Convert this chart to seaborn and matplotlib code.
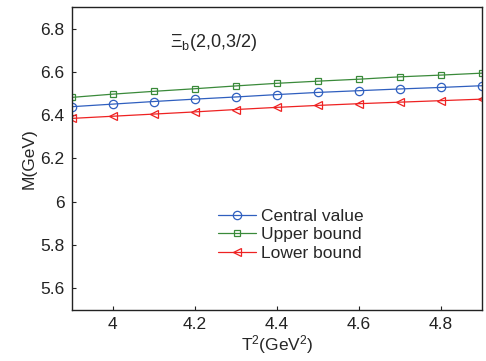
import matplotlib
matplotlib.use("Agg")
import matplotlib.pyplot as plt
import seaborn as sns
import pandas as pd

T2 = [3.9, 4.0, 4.1, 4.2, 4.3, 4.4, 4.5, 4.6, 4.7, 4.8, 4.9]
central = [6.439, 6.451, 6.463, 6.474, 6.484, 6.495, 6.505, 6.513, 6.521, 6.528, 6.536]
upper = [6.482, 6.497, 6.510, 6.522, 6.535, 6.547, 6.557, 6.566, 6.577, 6.585, 6.594]
lower = [6.385, 6.395, 6.405, 6.415, 6.426, 6.436, 6.445, 6.453, 6.460, 6.467, 6.474]
labels = ["Central value", "Upper bound", "Lower bound"]
xticks = [4.0, 4.2, 4.4, 4.6, 4.8]
yticks = [5.6, 5.8, 6.0, 6.2, 6.4, 6.6, 6.8]
ytick_labels = ["5.6", "5.8", "6", "6.2", "6.4", "6.6", "6.8"]

sns.set_style("ticks")
plt.rcParams['font.family'] = ['Liberation Sans', 'DejaVu Sans']
plt.rcParams['mathtext.fontset'] = 'custom'
plt.rcParams['mathtext.rm'] = 'Liberation Sans'
plt.rcParams['mathtext.it'] = 'Liberation Sans'

df = pd.DataFrame({
    "T2": T2 * 3,
    "M": central + upper + lower,
    "series": [labels[0]] * len(T2) + [labels[1]] * len(T2) + [labels[2]] * len(T2),
})

fig = plt.figure(figsize=(4.86, 3.61), dpi=100)
ax = fig.add_axes([0.1475, 0.141, 0.8445, 0.840])
palette = {labels[0]: "#2f5fbf", labels[1]: "#3a8a3a", labels[2]: "#ee2222"}
markers = {labels[0]: "o", labels[1]: "s", labels[2]: "<"}
msizes = {labels[0]: 6, labels[1]: 5, labels[2]: 6}
for lab in labels:
    sub = df[df.series == lab]
    sns.lineplot(data=sub, x="T2", y="M", ax=ax, color=palette[lab], marker=markers[lab],
                 markersize=msizes[lab], markerfacecolor="none",
                 markeredgecolor=palette[lab], markeredgewidth=0.9, linewidth=0.9, label=lab)

fs = 12.5
ax.set_xlim(3.9, 4.9)
ax.set_ylim(5.5, 6.9)
ax.set_xticks(xticks)
ax.set_xticklabels([f"{t:g}" for t in xticks])
ax.set_yticks(yticks)
ax.set_yticklabels(ytick_labels)
ax.tick_params(direction="in", length=3, labelsize=fs, colors="#222222", width=0.8, pad=5)
for s in ax.spines.values():
    s.set_linewidth(1.0)
    s.set_color("#222222")
ax.set_xlabel(r"T$^2$(GeV$^2$)", fontsize=fs, labelpad=1)
ax.set_ylabel("M(GeV)", fontsize=fs, labelpad=3)
ax.text(4.14, 6.735, r"$\Xi_{b}$(2,0,3/2)", fontsize=13, va="center")
leg = ax.legend(loc="upper left", bbox_to_anchor=(0.327, 0.375), frameon=False, fontsize=fs,
                handlelength=2.2, handletextpad=0.3, borderpad=0.2, labelspacing=0.2)
fig.savefig("out.png", dpi=100)
